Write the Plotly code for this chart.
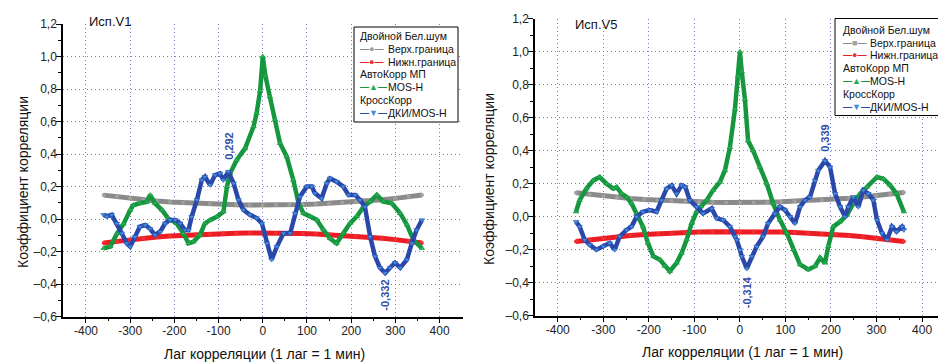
import plotly.graph_objects as go

# ---------------- data ----------------
X_TICKS = [-400, -300, -200, -100, 0, 100, 200, 300, 400]
X_TICK_LABELS = ["-400", "-300", "-200", "-100", "0", "100", "200", "300", "400"]
X_MINOR = [-350, -250, -150, -50, 50, 150, 250, 350]
Y_TICKS = [-0.6, -0.4, -0.2, 0.0, 0.2, 0.4, 0.6, 0.8, 1.0, 1.2]
Y_TICK_LABELS = ["–0,6", "–0,4", "–0,2", "0,0", "0,2", "0,4", "0,6", "0,8", "1,0", "1,2"]
Y_MINOR = [-0.5, -0.3, -0.1, 0.1, 0.3, 0.5, 0.7, 0.9, 1.1]

PANEL_TITLES = ["Исп.V1", "Исп.V5"]
X_TITLE = "Лаг корреляции (1 лаг = 1 мин)"
Y_TITLE = "Коэффициент корреляции"
GROUP_TITLES = ["Двойной Бел.шум", "АвтоКорр МП", "КроссКорр"]
SERIES_NAMES = ["Верх.граница", "Нижн.граница", "MOS-H", "ДКИ/MOS-H"]

BOUND_LAGS = [-360, -330, -300, -270, -240, -210, -180, -150, -120, -90, -60, -30, 0,
              30, 60, 90, 120, 150, 180, 210, 240, 270, 300, 330, 360]
V1_UPPER = [0.147, 0.137, 0.127, 0.118, 0.111, 0.105, 0.100, 0.096, 0.092, 0.089, 0.087, 0.086, 0.085,
            0.086, 0.087, 0.089, 0.092, 0.096, 0.100, 0.105, 0.111, 0.118, 0.127, 0.137, 0.148]
V1_LOWER = [-0.147, -0.137, -0.127, -0.118, -0.111, -0.105, -0.100, -0.096, -0.092, -0.089, -0.087, -0.086, -0.085,
            -0.086, -0.087, -0.089, -0.092, -0.096, -0.100, -0.105, -0.111, -0.118, -0.127, -0.137, -0.148]
V5_UPPER = [0.145, 0.135, 0.126, 0.118, 0.111, 0.105, 0.100, 0.095, 0.092, 0.089, 0.087, 0.086, 0.085,
            0.086, 0.088, 0.090, 0.093, 0.097, 0.101, 0.106, 0.112, 0.119, 0.127, 0.136, 0.146]
V5_LOWER = [-0.150, -0.140, -0.130, -0.121, -0.114, -0.108, -0.103, -0.099, -0.095, -0.093, -0.091, -0.090, -0.090,
            -0.090, -0.091, -0.093, -0.096, -0.099, -0.103, -0.108, -0.114, -0.121, -0.130, -0.140, -0.150]

V1_AUTO_LAGS = [-360, -345, -330, -315, -300, -293, -278, -262, -255, -244, -228, -214, -195, -180,
                -168, -157, -142, -131, -119, -104, -89, -81, -74, -59, -40, -21, -14, -6, 0,
                6, 16, 28, 39, 54, 69, 81, 92, 107, 122, 137, 152, 167, 182, 198, 213, 228,
                243, 258, 273, 292, 311, 326, 341, 360]
V1_AUTO = [-0.18, -0.17, -0.09, -0.03, 0.055, 0.085, 0.097, 0.106, 0.148, 0.097, 0.055, 0.004, -0.027, -0.088,
           -0.15, -0.14, -0.098, -0.027, -0.006, 0.014, 0.045, 0.20, 0.28, 0.363, 0.435, 0.568, 0.65, 0.79, 1.0,
           0.88, 0.753, 0.61, 0.466, 0.385, 0.24, 0.097, 0.035, 0.016, -0.004, -0.066, -0.12, -0.15, -0.086,
           -0.025, 0.016, 0.076, 0.107, 0.148, 0.107, 0.097, 0.035, -0.035, -0.13, -0.18]

V1_CROSS_LAGS = [-360, -353, -342, -330, -319, -308, -300, -289, -278, -266, -255, -244, -232, -221,
                 -210, -198, -187, -176, -168, -161, -149, -138, -131, -119, -108, -97, -89, -78,
                 -66, -55, -44, -29, -14, -2, 9, 20, 32, 47, 62, 73, 84, 100, 111, 118, 133, 145,
                 152, 167, 182, 194, 209, 220, 231, 243, 254, 265, 277, 288, 299, 311, 326, 337,
                 348, 360]
V1_CROSS = [0.026, 0.016, 0.026, -0.027, -0.088, -0.15, -0.17, -0.11, -0.047, -0.037, -0.06, -0.098, -0.078,
            -0.027, -0.006, -0.006, -0.027, -0.068, -0.068, 0.014, 0.118, 0.24, 0.26, 0.209, 0.27, 0.28, 0.24,
            0.292, 0.22, 0.118, 0.057, 0.026, 0.006, -0.027, -0.15, -0.25, -0.17, -0.088, -0.088, 0.035, 0.137,
            0.20, 0.20, 0.158, 0.127, 0.22, 0.25, 0.23, 0.20, 0.148, 0.148, 0.117, 0.076, -0.11, -0.23, -0.30,
            -0.332, -0.30, -0.27, -0.30, -0.25, -0.15, -0.068, -0.006]

V5_AUTO_LAGS = [-360, -352, -337, -322, -308, -293, -278, -271, -260, -249, -238, -227, -213, -202,
                -190, -176, -165, -154, -139, -128, -117, -106, -95, -86, -73, -59, -44, -33, -22,
                -11, -4, 0, 4, 11, 18, 29, 44, 59, 73, 88, 103, 117, 132, 150, 165, 176, 187, 194,
                205, 220, 235, 249, 264, 279, 301, 315, 330, 344, 360]
V5_AUTO = [0.03, 0.10, 0.17, 0.22, 0.24, 0.20, 0.17, 0.18, 0.14, 0.12, 0.08, 0.02, -0.06, -0.16,
           -0.24, -0.26, -0.30, -0.33, -0.28, -0.22, -0.14, -0.04, 0.03, 0.06, 0.10, 0.16, 0.21, 0.28, 0.42,
           0.65, 0.85, 1.0, 0.88, 0.71, 0.46, 0.40, 0.30, 0.20, 0.08, -0.02, -0.10, -0.20, -0.29, -0.32,
           -0.30, -0.25, -0.28, -0.18, -0.06, -0.03, 0.01, 0.08, 0.14, 0.18, 0.24, 0.23, 0.19, 0.14, 0.03]

V5_CROSS_LAGS = [-360, -352, -341, -330, -315, -300, -286, -275, -264, -249, -238, -227, -213, -198,
                 -183, -172, -161, -150, -139, -128, -120, -110, -95, -81, -62, -51, -37, -22, -11,
                 -7, 0, 4, 15, 26, 37, 51, 62, 77, 88, 99, 110, 121, 132, 143, 154, 165, 172, 187,
                 198, 209, 220, 231, 238, 249, 260, 271, 282, 293, 301, 312, 323, 334, 344, 356, 360]
V5_CROSS = [-0.03, -0.06, -0.14, -0.17, -0.20, -0.18, -0.16, -0.20, -0.12, -0.08, -0.06, 0.0, 0.03, 0.04,
            0.03, 0.10, 0.17, 0.19, 0.14, 0.19, 0.18, 0.10, 0.06, 0.02, 0.05, -0.01, -0.02, -0.06, -0.12,
            -0.14, -0.20, -0.24, -0.314, -0.24, -0.18, -0.12, -0.04, 0.02, 0.06, 0.04, 0.0, -0.04, 0.06, 0.10,
            0.12, 0.22, 0.28, 0.339, 0.30, 0.14, 0.06, 0.0, 0.06, 0.12, 0.06, 0.16, 0.14, 0.10, -0.02, -0.10,
            -0.14, -0.06, -0.09, -0.06, -0.08]

# ---------------- styling / layout ----------------
W, H = 938, 362
FONT = "Liberation Sans, Arial, sans-serif"
GRAY, RED, GREEN, BLUE = "#8a8a8a", "#ec1c24", "#15963f", "#2a48aa"
GRAY_M, RED_M, GREEN_M, BLUE_M = "#a0a0a0", "#f23030", "#25ad50", "#3f8fe0"
GRID = "#7676d8"
LABEL_BLUE = "#3350a8"
LEG_FONT = 10.5


def fx(p):
    return p / W


def fy(p):
    return 1 - p / H


PANELS = [
    dict(x0=63, x1=463, ytop=24, ybot=316.5, xr=[-452, 453],
         data=(V1_UPPER, V1_LOWER, V1_AUTO_LAGS, V1_AUTO, V1_CROSS_LAGS, V1_CROSS),
         title_xy=(110, 21), ytitle_xy=(23, 182), xtitle_xy=(264, 354),
         leg_box=(354, 27, 458, 122), leg_x=(358, 385), leg_y0=36.2, leg_dy=12.75,
         upper_sym="●", lab_shift=(10, -5)),
    dict(x0=535, x1=938, ytop=18.7, ybot=315.7, xr=[-450, 435],
         data=(V5_UPPER, V5_LOWER, V5_AUTO_LAGS, V5_AUTO, V5_CROSS_LAGS, V5_CROSS),
         title_xy=(596, 25), ytitle_xy=(489, 179), xtitle_xy=(742, 352),
         leg_box=(835, 18.5, 945, 115.5), leg_x=(841, 867), leg_y0=30.0, leg_dy=12.75,
         upper_sym="■", lab_shift=(7, -6)),
]

fig = go.Figure()
shapes, annotations = [], []
layout_axes = {}


def paper_text(text, x, y, size, angle=0, xanchor="center", color="#111"):
    return dict(text=text, x=fx(x), y=fy(y), xref="paper", yref="paper", textangle=angle,
                xanchor=xanchor, yanchor="middle", showarrow=False,
                font=dict(family=FONT, size=size, color=color))


for i, p in enumerate(PANELS):
    sfx = "" if i == 0 else str(i + 1)
    xa, ya = "x" + sfx, "y" + sfx
    up, lo, al, av, cl, cv = p["data"]

    fig.add_trace(go.Scatter(x=BOUND_LAGS, y=up, name=SERIES_NAMES[0], mode="lines+markers",
                             line=dict(color=GRAY, width=5), marker=dict(symbol="circle", size=4, color=GRAY_M),
                             xaxis=xa, yaxis=ya, showlegend=False))
    fig.add_trace(go.Scatter(x=BOUND_LAGS, y=lo, name=SERIES_NAMES[1], mode="lines+markers",
                             line=dict(color=RED, width=5), marker=dict(symbol="circle", size=4, color=RED_M),
                             xaxis=xa, yaxis=ya, showlegend=False))
    fig.add_trace(go.Scatter(x=al, y=av, name=SERIES_NAMES[2], mode="lines+markers",
                             line=dict(color=GREEN, width=4.5),
                             marker=dict(symbol="triangle-up", size=5, color=GREEN_M, line=dict(color=GREEN, width=0.5)),
                             xaxis=xa, yaxis=ya, showlegend=False))
    fig.add_trace(go.Scatter(x=cl, y=cv, name=SERIES_NAMES[3], mode="lines+markers",
                             line=dict(color=BLUE, width=4.5),
                             marker=dict(symbol="triangle-down", size=5, color=BLUE_M, line=dict(color=BLUE, width=0.5)),
                             xaxis=xa, yaxis=ya, showlegend=False))

    common = dict(showline=True, linecolor="black", linewidth=1.5, ticks="outside", ticklen=5,
                  tickwidth=1, tickcolor="black", showgrid=True, gridcolor=GRID, gridwidth=1,
                  griddash="1px,3px", zeroline=False, automargin=False, ticklabelstandoff=-3,
                  tickfont=dict(family=FONT, size=12, color="#222"))
    layout_axes["xaxis" + sfx] = dict(common, domain=[fx(p["x0"]), fx(p["x1"])], range=p["xr"],
                                      anchor=ya, tickmode="array", tickvals=X_TICKS, ticktext=X_TICK_LABELS,
                                      minor=dict(tickvals=X_MINOR, ticks="outside", ticklen=3,
                                                 tickcolor="black", showgrid=False))
    layout_axes["yaxis" + sfx] = dict(common, domain=[fy(p["ybot"]), fy(p["ytop"])], range=[-0.6, 1.2],
                                      anchor=xa, tickmode="array", tickvals=Y_TICKS, ticktext=Y_TICK_LABELS,
                                      minor=dict(tickvals=Y_MINOR, ticks="outside", ticklen=3,
                                                 tickcolor="black", showgrid=False))

    # panel title and axis titles
    annotations.append(paper_text(PANEL_TITLES[i], *p["title_xy"], 13))
    annotations.append(paper_text(Y_TITLE, *p["ytitle_xy"], 14, angle=-90))
    annotations.append(paper_text(X_TITLE, *p["xtitle_xy"], 14))

    # extreme value labels of the cross-correlation
    imax = cv.index(max(cv))
    imin = cv.index(min(cv))
    for idx, anchor, shift in ((imax, "bottom", p["lab_shift"][0]), (imin, "top", p["lab_shift"][1])):
        annotations.append(dict(text="<b>" + f"{cv[idx]:.3f}".replace(".", ",") + "</b>",
                                x=cl[idx], y=cv[idx], xref=xa, yref=ya, textangle=-90,
                                xanchor="center", yanchor=anchor, yshift=shift, showarrow=False,
                                font=dict(family=FONT, size=11, color=LABEL_BLUE)))

    # legend box (drawn as shapes + text)
    bx0, by0, bx1, by1 = p["leg_box"]
    shapes.append(dict(type="rect", xref="paper", yref="paper", x0=fx(bx0), x1=fx(bx1),
                       y0=fy(by1), y1=fy(by0), line=dict(color="black", width=1), fillcolor="white"))
    lx_sym, lx_txt = p["leg_x"]
    syms = [(GRAY, GRAY_M, p["upper_sym"]), (RED, RED_M, "●"), (GREEN, GREEN_M, "▲"), (BLUE, BLUE_M, "▼")]
    rows = [("title", GROUP_TITLES[0]), ("item", 0), ("item", 1), ("title", GROUP_TITLES[1]), ("item", 2),
            ("title", GROUP_TITLES[2]), ("item", 3)]
    for r, (kind, val) in enumerate(rows):
        yy = p["leg_y0"] + r * p["leg_dy"]
        if kind == "title":
            annotations.append(paper_text(val, lx_sym, yy, LEG_FONT, xanchor="left"))
        else:
            lc, mc, s = syms[val]
            sym = (f"<b><span style='color:{lc}'>—</span><span style='color:{mc}'>{s}</span>"
                   f"<span style='color:{lc}'>—</span></b>")
            annotations.append(paper_text(sym, lx_sym, yy, 9, xanchor="left", color=lc))
            annotations.append(paper_text(SERIES_NAMES[val], lx_txt + 1, yy, LEG_FONT, xanchor="left"))

fig.update_layout(width=W, height=H, margin=dict(l=0, r=0, t=0, b=0),
                  paper_bgcolor="white", plot_bgcolor="white", showlegend=False,
                  font=dict(family=FONT), shapes=shapes, annotations=annotations, **layout_axes)

fig.write_html("out.html", config={"displayModeBar": False},
               post_script="document.body.style.margin='0';document.body.style.overflow='hidden';")
